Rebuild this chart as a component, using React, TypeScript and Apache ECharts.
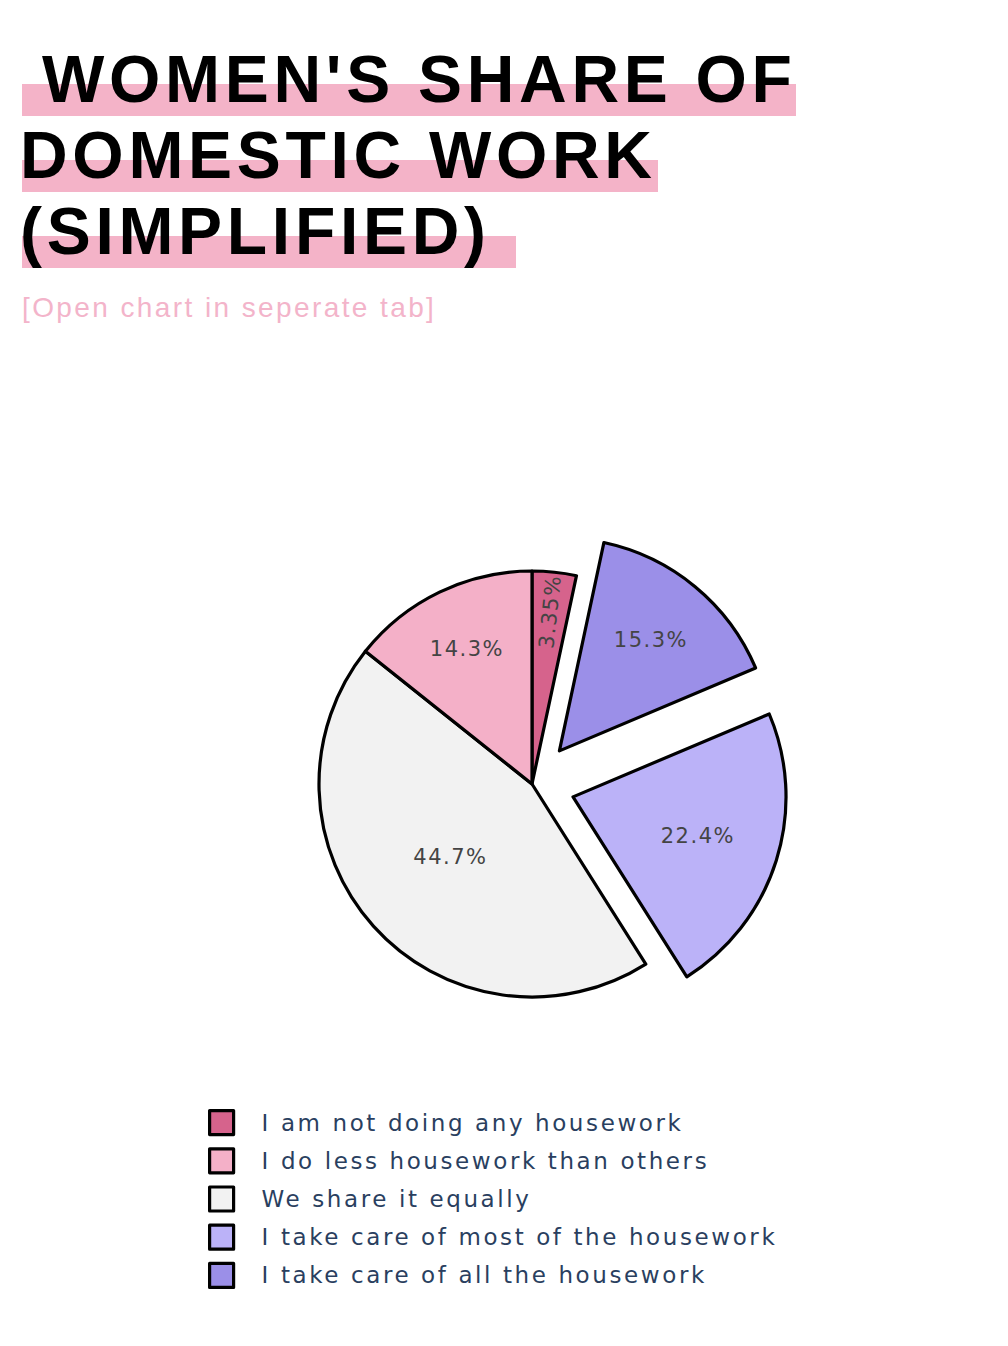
import React, { useEffect, useRef } from 'react';
import * as echarts from 'echarts';

// ---- data ----
const categories = [
  'I am not doing any housework',
  'I take care of all the housework',
  'I take care of most of the housework',
  'We share it equally',
  'I do less housework than others',
];
const shares = [3.35, 15.3, 22.4, 44.7, 14.3];
const pulledOut = [false, true, true, false, false];
const legendOrder = [
  'I am not doing any housework',
  'I do less housework than others',
  'We share it equally',
  'I take care of most of the housework',
  'I take care of all the housework',
];
const titleLines = ["WOMEN'S SHARE OF", 'DOMESTIC WORK', '(SIMPLIFIED)'];
const subtitle = '[Open chart in seperate tab]';

// ---- style ----
const sliceColors = ['#d6638c', '#9b8fe8', '#bbb2f8', '#f2f2f2', '#f4b0c8'];
const labelFrac = [0.8, 0.66, 0.6, 0.5, 0.69];
const CX = 532;
const CY = 784;
const R = 213;
const PULL = 43;

export default function App() {
  const ref = useRef<HTMLDivElement>(null);
  useEffect(() => {
    if (!ref.current) return;
    const chart = echarts.init(ref.current, undefined, { renderer: 'svg' });
    const total = shares.reduce((a, b) => a + b, 0);
    let cum = 0;
    const shiftY: number[] = [];
    const data = categories.map((name, i) => {
      const mid = ((cum + shares[i] / 2) / total) * Math.PI * 2;
      cum += shares[i];
      const s = (labelFrac[i] - 0.5) * R;
      const sx = Math.sin(mid) * s;
      const sy = -Math.cos(mid) * s;
      shiftY.push(sy);
      let label: any = {};
      if (i === 0) label = { rotate: 'radial' };
      if (pulledOut[i]) {
        // move the label outwards inside the pulled slice
        label = {
          padding: [0, sx < 0 ? -2 * sx : 0, 0, sx > 0 ? 2 * sx : 0],
          lineHeight: Math.max(2 * Math.abs(sy), 1),
        };
      }
      return {
        name,
        value: shares[i],
        selected: pulledOut[i],
        itemStyle: { color: sliceColors[i] },
        select: { itemStyle: { color: sliceColors[i], borderColor: '#000', borderWidth: 3.2 } },
        label,
      };
    });
    const barColor = '#f4b3c8';
    chart.setOption({
      animation: false,
      backgroundColor: '#ffffff',
      graphic: [
        { type: 'rect', z: 1, shape: { x: 22, y: 84, width: 774, height: 32 }, style: { fill: barColor } },
        { type: 'rect', z: 1, shape: { x: 22, y: 160, width: 636, height: 32 }, style: { fill: barColor } },
        { type: 'rect', z: 1, shape: { x: 22, y: 236, width: 494, height: 32 }, style: { fill: barColor } },
        ...titleLines.map((t, i) => ({
          type: 'text',
          z: 2,
          x: i === 0 ? 42 : 20,
          y: 79 + i * 76,
          style: {
            text: t,
            fontFamily: '"Liberation Sans", Arial, sans-serif',
            fontWeight: 'bold',
            fontSize: 66,
            fill: '#000000',
            textVerticalAlign: 'middle',
            verticalAlign: 'middle',
          },
        })),
        {
          type: 'text',
          z: 2,
          x: 22,
          y: 307,
          style: {
            text: subtitle,
            fontFamily: '"Liberation Sans", Arial, sans-serif',
            fontSize: 28,
            fill: '#f3b4ca',
            textVerticalAlign: 'middle',
            verticalAlign: 'middle',
          },
        },
      ],
      legend: {
        orient: 'vertical',
        left: 203,
        top: 1104,
        data: legendOrder,
        icon: 'rect',
        itemWidth: 24,
        itemHeight: 24,
        itemGap: 11,
        selectedMode: false,
        itemStyle: { borderColor: '#000', borderWidth: 3.2 },
        textStyle: {
          fontFamily: '"DejaVu Sans", Verdana, sans-serif',
          fontSize: 23,
          color: '#2a3f5f',
          lineHeight: 24,
          padding: [0, 0, 0, 23],
        },
      },
      series: [
        {
          type: 'pie',
          center: [CX, CY],
          radius: [0, R],
          startAngle: 90,
          clockwise: true,
          selectedMode: 'multiple',
          selectedOffset: PULL,
          silent: true,
          emphasis: { disabled: true, scale: false },
          itemStyle: { borderColor: '#000', borderWidth: 3.2 },
          label: {
            show: true,
            position: 'inside',
            formatter: '{c}%',
            fontFamily: '"DejaVu Sans", Verdana, sans-serif',
            fontSize: 21,
            color: '#444444',
          },
          labelLine: { show: false },
          labelLayout: (p: any) => {
            const i = p.dataIndex;
            if (pulledOut[i]) {
              return { verticalAlign: shiftY[i] < 0 ? 'bottom' : 'top' };
            }
            const r = p.labelRect;
            const lx = r.x + r.width / 2;
            const ly = r.y + r.height / 2;
            const dx = lx - CX;
            const dy = ly - CY;
            const d = Math.hypot(dx, dy) || 1;
            const k = (labelFrac[i] - 0.5) * R;
            return { x: lx + (dx / d) * k, y: ly + (dy / d) * k };
          },
          data,
        },
      ],
    });
    return () => chart.dispose();
  }, []);
  return (
    <>
      <style>{`
        .chartbox text { letter-spacing: 2px; }
        .chartbox text[fill="#000000"] { letter-spacing: 4.7px; }
        .chartbox text[fill="#f3b4ca"] { letter-spacing: 2.4px; }
        .chartbox text[fill="#2a3f5f"] { letter-spacing: 2.6px; }
        .chartbox text[fill="#444444"] { letter-spacing: 1.5px; }
      `}</style>
      <div
        ref={ref}
        className="chartbox"
        style={{ position: 'absolute', left: 0, top: 0, width: 1008, height: 1346 }}
      />
    </>
  );
}
